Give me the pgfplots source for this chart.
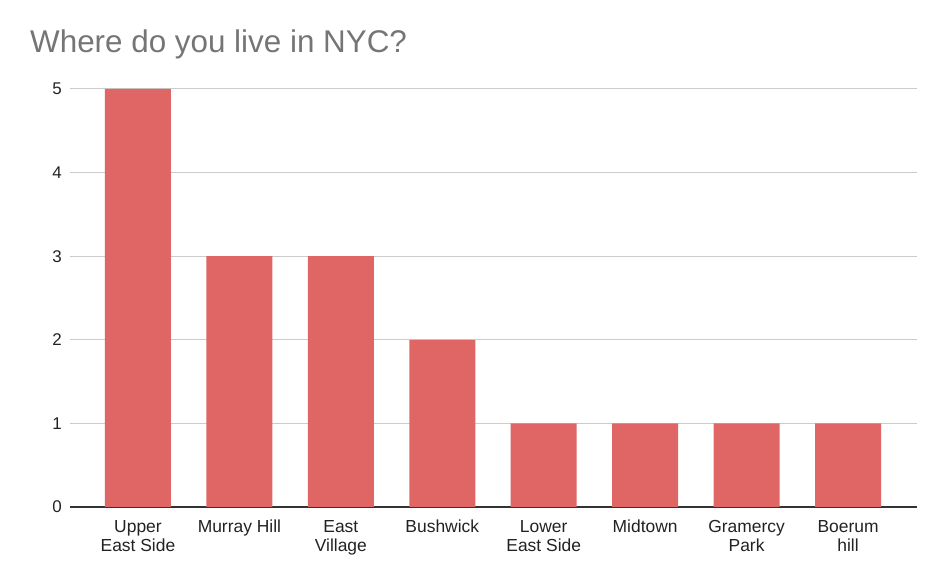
\documentclass[border=0pt]{standalone}
\usepackage{pgfplots}
\pgfplotsset{compat=1.18}
\usepackage{fontspec}
\setmainfont{Liberation Sans}
\definecolor{barred}{HTML}{E06666}
\definecolor{titlegray}{HTML}{757575}
\definecolor{gridgray}{HTML}{CCCCCC}
\definecolor{basegray}{HTML}{333333}
\definecolor{labelblack}{HTML}{222222}
\begin{document}
\begin{tikzpicture}[x=1bp,y=1bp]
\path[use as bounding box] (0,0) rectangle (946,584);
\node[anchor=base west, inner sep=0, text=titlegray, font=\fontsize{31.5}{36}\selectfont] at (30,531) {Where do you live in NYC?};
\begin{axis}[
  at={(70bp,77bp)}, anchor=south west,
  scale only axis,
  width=847bp, height=418bp,
  xmin=-0.67, xmax=7.68,
  ymin=0, ymax=5,
  ytick={0,1,2,3,4,5},
  xtick={0,1,2,3,4,5,6,7},
  xticklabels={{Upper\\East Side},{Murray Hill},{East\\Village},{Bushwick},{Lower\\East Side},{Midtown},{Gramercy\\Park},{Boerum\\hill}},
  xticklabel style={align=center, inner sep=0pt, anchor=north, yshift=-13bp, text=labelblack, font=\fontsize{17.5}{19}\selectfont},
  yticklabel style={inner sep=0pt, anchor=east, xshift=-8bp, text=labelblack, font=\fontsize{17}{19}\selectfont},
  major tick length=0pt,
  axis x line*=bottom, axis y line*=left,
  x axis line style={-, color=basegray, line width=1.2bp},
  y axis line style={draw=none},
  ymajorgrids, grid style={color=gridgray, line width=1bp},
  /pgf/number format/assume math mode=true,
  clip=false,
]
\addplot[ybar, bar width=66bp, fill=barred, draw=none] coordinates {
(0,5) (1,3) (2,3) (3,2) (4,1) (5,1) (6,1) (7,1)
};
\end{axis}
\end{tikzpicture}
\end{document}
